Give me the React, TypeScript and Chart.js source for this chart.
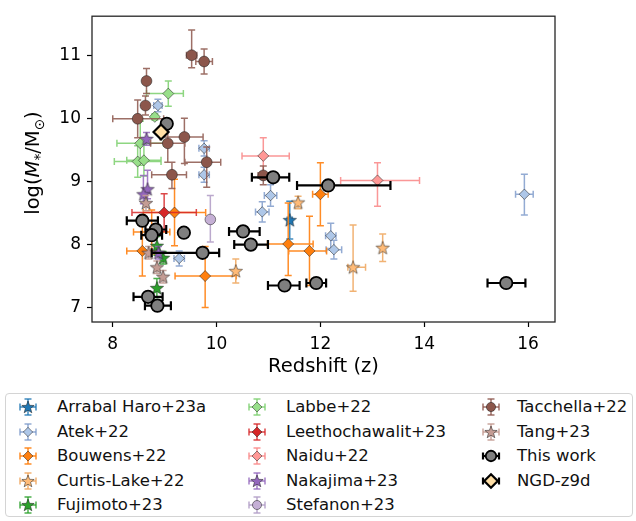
import React, { useEffect, useRef } from 'react';
import { Chart, registerables } from 'chart.js';

Chart.register(...registerables);

type Pair = [number, number];

// ---------- axis ticks ----------
const X_TICKS = [8, 10, 12, 14, 16];
const Y_TICKS = [7, 8, 9, 10, 11];
const X_MIN = 7.6;
const X_MAX = 16.52;
const Y_MIN = 6.77;
const Y_MAX = 11.63;

// ---------- data (redshift, log stellar mass, errors [low, high]) ----------
const arrabalZ = [11.41];
const arrabalM = [8.39];
const arrabalZErr: Pair[] = [[0.05, 0.05]];
const arrabalMErr: Pair[] = [[0.3, 0.3]];

const atekZ = [8.87, 9.76, 9.76, 11.04, 10.88, 12.2, 12.26, 15.93, 9.28];
const atekM = [10.21, 9.53, 9.11, 8.78, 8.52, 8.14, 7.92, 8.8, 7.78];
const atekZErr: Pair[] = [[0.08, 0.08], [0.1, 0.1], [0.1, 0.1], [0.12, 0.12], [0.13, 0.13], [0.1, 0.1], [0.15, 0.15], [0.17, 0.17], [0.1, 0.1]];
const atekMErr: Pair[] = [[0.1, 0.1], [0.12, 0.12], [0.12, 0.12], [0.17, 0.17], [0.16, 0.16], [0.2, 0.2], [0.15, 0.15], [0.33, 0.32], [0.12, 0.12]];

const bouwensZ = [9.19, 8.57, 9.78, 11.38, 11.79, 12.0, 8.75];
const bouwensM = [8.51, 7.9, 7.5, 8.01, 7.9, 8.8, 8.2];
const bouwensZErr: Pair[] = [[0.6, 0.6], [0.3, 0.28], [0.58, 0.6], [0.4, 0.48], [0.4, 0.33], [0.15, 0.15], [0.35, 0.35]];
const bouwensMErr: Pair[] = [[0.53, 0.53], [0.4, 0.4], [0.5, 0.47], [0.5, 0.65], [0.55, 0.55], [0.5, 0.5], [0.35, 0.35]];

const curtisZ = [10.37, 11.57, 13.2, 12.63];
const curtisM = [7.58, 8.67, 7.95, 7.64];
const curtisZErr: Pair[] = [[0, 0], [0, 0], [0, 0], [0.1, 0.24]];
const curtisMErr: Pair[] = [[0.19, 0.19], [0.1, 0.1], [0.22, 0.22], [0.38, 0.67]];

const fujimotoZ = [8.85, 8.97, 8.85];
const fujimotoM = [7.98, 7.79, 7.31];
const fujimotoZErr: Pair[] = [[0, 0], [0, 0], [0, 0]];
const fujimotoMErr: Pair[] = [[0.15, 0.15], [0.1, 0.1], [0.15, 0.15]];

const labbeZ = [9.07, 8.81, 8.53, 8.48, 8.6];
const labbeM = [10.4, 10.03, 9.61, 9.32, 9.34];
const labbeZErr: Pair[] = [[0.42, 0.29], [0.05, 0.05], [0.45, 0.45], [0.45, 0.45], [0.33, 0.33]];
const labbeMErr: Pair[] = [[0.2, 0.2], [0.05, 0.05], [0.35, 0.35], [0.25, 0.25], [0.25, 0.25]];

const leethZ = [8.99];
const leethM = [8.51];
const leethZErr: Pair[] = [[0.62, 0.62]];
const leethMErr: Pair[] = [[0.3, 0.3]];

const naiduZ = [10.9, 13.1];
const naiduM = [9.41, 9.02];
const naiduZErr: Pair[] = [[0.41, 0.5], [0.71, 0.81]];
const naiduMErr: Pair[] = [[0.31, 0.29], [0.41, 0.28]];

const nakajimaZ = [8.65, 8.67, 8.59, 8.88];
const nakajimaM = [9.68, 8.88, 8.8, 7.87];
const nakajimaZErr: Pair[] = [[0, 0], [0, 0], [0, 0], [0, 0]];
const nakajimaMErr: Pair[] = [[0.1, 0.1], [0.15, 0.3], [0.15, 0.3], [0.1, 0.1]];

const stefanonZ = [9.88];
const stefanonM = [8.4];
const stefanonZErr: Pair[] = [[0, 0]];
const stefanonMErr: Pair[] = [[0.36, 0.38]];

const tacchellaZ = [9.52, 9.76, 8.65, 8.63, 8.48, 9.38, 9.06, 9.81, 9.14, 10.9];
const tacchellaM = [11.01, 10.91, 10.6, 10.21, 10.0, 9.71, 9.61, 9.31, 9.11, 9.1];
const tacchellaZErr: Pair[] = [[0.1, 0.1], [0.16, 0.16], [0, 0], [0, 0], [0.48, 0.5], [0.47, 0.36], [0.33, 0.33], [0.42, 0.27], [0.39, 0.28], [0.1, 0.1]];
const tacchellaMErr: Pair[] = [[0.2, 0.4], [0.2, 0.2], [0.2, 0.2], [0.15, 0.15], [0.3, 0.3], [0.42, 0.3], [0.3, 0.3], [0.4, 0.24], [0.22, 0.2], [0.15, 0.15]];

const tangZ = [8.64, 8.69, 8.85, 8.97];
const tangM = [8.66, 7.87, 7.64, 7.49];
const tangZErr: Pair[] = [[0, 0], [0, 0], [0, 0], [0, 0]];
const tangMErr: Pair[] = [[0.12, 0.12], [0.1, 0.1], [0.1, 0.1], [0.1, 0.1]];

const thisWorkZ = [9.04, 11.09, 12.15, 8.57, 8.83, 8.75, 9.37, 9.73, 8.68, 8.86, 10.51, 10.66, 11.31, 11.92, 15.58];
const thisWorkM = [9.92, 9.07, 8.94, 8.38, 8.24, 8.15, 8.19, 7.87, 7.17, 7.03, 8.21, 8.0, 7.35, 7.39, 7.39];
const thisWorkZErr: Pair[] = [[0.08, 0.08], [0.41, 0.31], [0.6, 1.2], [0.3, 0.3], [0.2, 0.2], [0.2, 0.2], [0, 0], [0.98, 0.32], [0.28, 0.28], [0.24, 0.26], [0.27, 0.32], [0.32, 0.33], [0.32, 0.29], [0.19, 0.19], [0.36, 0.37]];
const thisWorkMErr: Pair[] = thisWorkZ.map(() => [0, 0] as Pair);

const ngdZ = [8.93];
const ngdM = [9.79];
const ngdZErr: Pair[] = [[0.05, 0.05]];
const ngdMErr: Pair[] = [[0, 0]];

// ---------- series styling ----------
type Marker = 'circle' | 'diamond' | 'star';
interface Series {
  name: string; z: number[]; m: number[]; ze: Pair[]; me: Pair[];
  color: string; marker: Marker; size: number; edge: string; edgeW: number;
  barColor: string; barW: number; cap: number;
}

const EDGE = 'rgba(30,30,30,0.75)';
const mk = (name: string, z: number[], m: number[], ze: Pair[], me: Pair[], color: string, marker: Marker, size: number, bar: string): Series => ({
  name, z, m, ze, me, color, marker, size, edge: EDGE, edgeW: 0.7, barColor: bar, barW: 1.5, cap: 3.5,
});

const SERIES: Series[] = [
  mk('Arrabal Haro+23a', arrabalZ, arrabalM, arrabalZErr, arrabalMErr, '#1f77b4', 'star', 7, 'rgba(31,119,180,0.85)'),
  mk('Atek+22', atekZ, atekM, atekZErr, atekMErr, '#aec7e8', 'diamond', 5.2, 'rgba(120,150,200,0.8)'),
  mk('Bouwens+22', bouwensZ, bouwensM, bouwensZErr, bouwensMErr, '#ff7f0e', 'diamond', 5.5, 'rgba(255,127,14,0.9)'),
  mk('Curtis-Lake+22', curtisZ, curtisM, curtisZErr, curtisMErr, '#ffbb78', 'star', 7, 'rgba(240,170,100,0.9)'),
  mk('Fujimoto+23', fujimotoZ, fujimotoM, fujimotoZErr, fujimotoMErr, '#2ca02c', 'star', 7, 'rgba(44,160,44,0.85)'),
  mk('Labbe+22', labbeZ, labbeM, labbeZErr, labbeMErr, '#98df8a', 'diamond', 5.5, 'rgba(130,210,115,0.9)'),
  mk('Leethochawalit+23', leethZ, leethM, leethZErr, leethMErr, '#d62728', 'diamond', 5.5, 'rgba(214,39,40,0.85)'),
  mk('Naidu+22', naiduZ, naiduM, naiduZErr, naiduMErr, '#ff9896', 'diamond', 5.5, 'rgba(250,140,140,0.9)'),
  mk('Nakajima+23', nakajimaZ, nakajimaM, nakajimaZErr, nakajimaMErr, '#9467bd', 'star', 7, 'rgba(148,103,189,0.85)'),
  mk('Stefanon+23', stefanonZ, stefanonM, stefanonZErr, stefanonMErr, '#c5b0d5', 'circle', 5.3, 'rgba(180,160,200,0.9)'),
  mk('Tacchella+22', tacchellaZ, tacchellaM, tacchellaZErr, tacchellaMErr, '#8c564b', 'circle', 5.4, 'rgba(140,86,75,0.85)'),
  mk('Tang+23', tangZ, tangM, tangZErr, tangMErr, '#c49c94', 'star', 7, 'rgba(196,156,148,0.9)'),
  { name: 'This work', z: thisWorkZ, m: thisWorkM, ze: thisWorkZErr, me: thisWorkMErr, color: '#7f7f7f', marker: 'circle', size: 6.2, edge: '#000', edgeW: 1.8, barColor: '#000', barW: 2.2, cap: 4.5 },
  { name: 'NGD-z9d', z: ngdZ, m: ngdM, ze: ngdZErr, me: ngdMErr, color: '#ffdfa6', marker: 'diamond', size: 7.5, edge: '#000', edgeW: 2.2, barColor: '#000', barW: 2.2, cap: 4.5 },
];

function starPath(R: number, cx: number, cy: number): [number, number][] {
  const pts: [number, number][] = [];
  for (let k = 0; k < 10; k++) {
    const a = -Math.PI / 2 + (k * Math.PI) / 5;
    const rr = k % 2 === 0 ? R : R * 0.42;
    pts.push([cx + rr * Math.cos(a), cy + rr * Math.sin(a)]);
  }
  return pts;
}

function starCanvas(fill: string, edge: string, R: number, lw: number): HTMLCanvasElement {
  const size = Math.ceil(2 * R + 4);
  const c = document.createElement('canvas');
  c.width = size; c.height = size;
  const g = c.getContext('2d')!;
  const pts = starPath(R, size / 2, size / 2 + 0.5);
  g.beginPath();
  pts.forEach(([x, y], i) => (i ? g.lineTo(x, y) : g.moveTo(x, y)));
  g.closePath();
  g.fillStyle = fill; g.fill();
  g.lineWidth = lw; g.strokeStyle = edge; g.stroke();
  return c;
}

const errorBarPlugin = {
  id: 'errbars',
  beforeDatasetDraw(chart: any, args: any) {
    const s = SERIES[args.index];
    if (!s) return;
    const ctx: CanvasRenderingContext2D = chart.ctx;
    const xs = chart.scales.x, ys = chart.scales.y;
    const a = chart.chartArea;
    ctx.save();
    ctx.beginPath();
    ctx.rect(a.left, a.top, a.right - a.left, a.bottom - a.top);
    ctx.clip();
    ctx.strokeStyle = s.barColor;
    ctx.lineWidth = s.barW;
    ctx.beginPath();
    s.z.forEach((z, i) => {
      const m = s.m[i];
      const cx = xs.getPixelForValue(z), cy = ys.getPixelForValue(m);
      const [zl, zh] = s.ze[i];
      const [ml, mh] = s.me[i];
      if (zl > 0 || zh > 0) {
        const x1 = xs.getPixelForValue(z - zl), x2 = xs.getPixelForValue(z + zh);
        ctx.moveTo(x1, cy); ctx.lineTo(x2, cy);
        ctx.moveTo(x1, cy - s.cap); ctx.lineTo(x1, cy + s.cap);
        ctx.moveTo(x2, cy - s.cap); ctx.lineTo(x2, cy + s.cap);
      }
      if (ml > 0 || mh > 0) {
        const y1 = ys.getPixelForValue(m - ml), y2 = ys.getPixelForValue(m + mh);
        ctx.moveTo(cx, y1); ctx.lineTo(cx, y2);
        ctx.moveTo(cx - s.cap, y1); ctx.lineTo(cx + s.cap, y1);
        ctx.moveTo(cx - s.cap, y2); ctx.lineTo(cx + s.cap, y2);
      }
    });
    ctx.stroke();
    ctx.restore();
  },
};

const framePlugin = {
  id: 'frame',
  afterDatasetsDraw(chart: any) {
    const ctx: CanvasRenderingContext2D = chart.ctx;
    const a = chart.chartArea;
    ctx.save();
    ctx.strokeStyle = '#262626';
    ctx.lineWidth = 1.3;
    ctx.strokeRect(a.left, a.top, a.right - a.left, a.bottom - a.top);
    ctx.restore();
  },
};

function LegendIcon({ s }: { s: Series }) {
  const hasY = s.me.some(([l, h]) => l > 0 || h > 0);
  const L = 8, c = 3.5;
  const sw = s.barW;
  let shape: React.ReactNode = null;
  if (s.marker === 'circle') {
    shape = <circle cx={0} cy={0} r={s.size * 0.85} fill={s.color} stroke={s.edge} strokeWidth={s.edgeW} />;
  } else if (s.marker === 'diamond') {
    const r = s.size * 0.9;
    shape = <polygon points={`0,${-r} ${r},0 0,${r} ${-r},0`} fill={s.color} stroke={s.edge} strokeWidth={s.edgeW} />;
  } else {
    const pts = starPath(6.5, 0, 0.5).map(([x, y]) => `${x.toFixed(2)},${y.toFixed(2)}`).join(' ');
    shape = <polygon points={pts} fill={s.color} stroke={s.edge} strokeWidth={0.7} />;
  }
  return (
    <svg width={24} height={24} viewBox="-12 -12 24 24" style={{ display: 'block' }}>
      <g stroke={s.barColor} strokeWidth={sw} fill="none">
        <line x1={-L} y1={0} x2={L} y2={0} />
        <line x1={-L} y1={-c} x2={-L} y2={c} />
        <line x1={L} y1={-c} x2={L} y2={c} />
        {hasY && <line x1={0} y1={-L} x2={0} y2={L} />}
        {hasY && <line x1={-c} y1={-L} x2={c} y2={-L} />}
        {hasY && <line x1={-c} y1={L} x2={c} y2={L} />}
      </g>
      {shape}
    </svg>
  );
}

const FONT = '"DejaVu Sans", sans-serif';
const LEGEND_ICON_X = [28, 257, 491];
const LEGEND_TEXT_X = [57, 286, 517];
const LEGEND_ROW_Y = [407, 431.5, 456, 480.5, 505];

export default function App() {
  const canvasRef = useRef<HTMLCanvasElement | null>(null);

  useEffect(() => {
    const canvas = canvasRef.current;
    if (!canvas) return;
    const datasets = SERIES.map((s, i) => {
      const style: any = s.marker === 'star' ? starCanvas(s.color, s.edge, s.size, s.edgeW) : s.marker === 'diamond' ? 'rectRot' : 'circle';
      return {
        label: s.name,
        data: s.z.map((z, k) => ({ x: z, y: s.m[k] })),
        pointStyle: style,
        pointRadius: s.size,
        pointHoverRadius: s.size,
        backgroundColor: s.color,
        borderColor: s.edge,
        borderWidth: s.edgeW,
        pointBorderWidth: s.edgeW,
        showLine: false,
        order: -i,
      };
    });
    const chart = new Chart(canvas, {
      type: 'scatter',
      data: { datasets },
      options: {
        animation: false,
        responsive: false,
        events: [],
        layout: { padding: { top: 4, right: 81, left: 0, bottom: 0 } },
        plugins: { legend: { display: false }, tooltip: { enabled: false } },
        scales: {
          x: {
            type: 'linear', min: X_MIN, max: X_MAX,
            afterBuildTicks: (sc: any) => { sc.ticks = X_TICKS.map((v) => ({ value: v })); },
            afterFit: (sc: any) => { sc.height = 58; },
            grid: { display: true, drawOnChartArea: false, drawTicks: true, tickLength: 5, tickColor: '#000', tickWidth: 1.2 },
            border: { display: false },
            ticks: { font: { family: FONT, size: 17 }, color: '#000', padding: 7, maxRotation: 0, autoSkip: false, callback: (v: any) => String(v) },
            title: { display: true, text: 'Redshift (z)', font: { family: FONT, size: 19.5 }, color: '#000', padding: { top: 0, bottom: 1 } },
          },
          y: {
            type: 'linear', min: Y_MIN, max: Y_MAX,
            afterBuildTicks: (sc: any) => { sc.ticks = Y_TICKS.map((v) => ({ value: v })); },
            afterFit: (sc: any) => { sc.width = 92; },
            grid: { display: true, drawOnChartArea: false, drawTicks: true, tickLength: 5, tickColor: '#000', tickWidth: 1.2 },
            border: { display: false },
            ticks: { font: { family: FONT, size: 17 }, color: '#000', padding: 6, autoSkip: false, callback: (v: any) => String(v) },
          },
        },
      } as any,
      plugins: [errorBarPlugin, framePlugin],
    });
    return () => chart.destroy();
  }, []);

  const cols = [[0, 1, 2, 3, 4], [5, 6, 7, 8, 9], [10, 11, 12, 13]];

  return (
    <div style={{ position: 'absolute', left: 0, top: 0, width: 636, height: 521, background: '#fff', overflow: 'hidden', fontFamily: FONT }}>
      <canvas ref={canvasRef} width={636} height={380} style={{ position: 'absolute', left: 0, top: 0, width: 636, height: 380 }} />
      <div style={{ position: 'absolute', left: 35, top: 163, transform: 'translate(-50%, -50%) rotate(-90deg)', fontSize: 19.5, whiteSpace: 'nowrap', color: '#000', lineHeight: 1 }}>
        log(<i>M</i><sub style={{ fontSize: '70%' }}>*</sub>/M<sub style={{ fontSize: '70%' }}>⊙</sub>)
      </div>
      <div style={{ position: 'absolute', left: 5, top: 393, width: 628, height: 124, border: '1px solid #d4d4d4', borderRadius: 4, boxSizing: 'border-box' }} />
      {cols.map((col, c) =>
        col.map((si, r) => {
          const s = SERIES[si];
          return (
            <React.Fragment key={s.name}>
              <div style={{ position: 'absolute', left: LEGEND_ICON_X[c] - 12, top: LEGEND_ROW_Y[r] - 12 }}>
                <LegendIcon s={s} />
              </div>
              <div style={{ position: 'absolute', left: LEGEND_TEXT_X[c], top: LEGEND_ROW_Y[r] - 10, fontSize: 16.5, lineHeight: '20px', color: '#111', whiteSpace: 'nowrap' }}>
                {s.name}
              </div>
            </React.Fragment>
          );
        })
      )}
    </div>
  );
}
